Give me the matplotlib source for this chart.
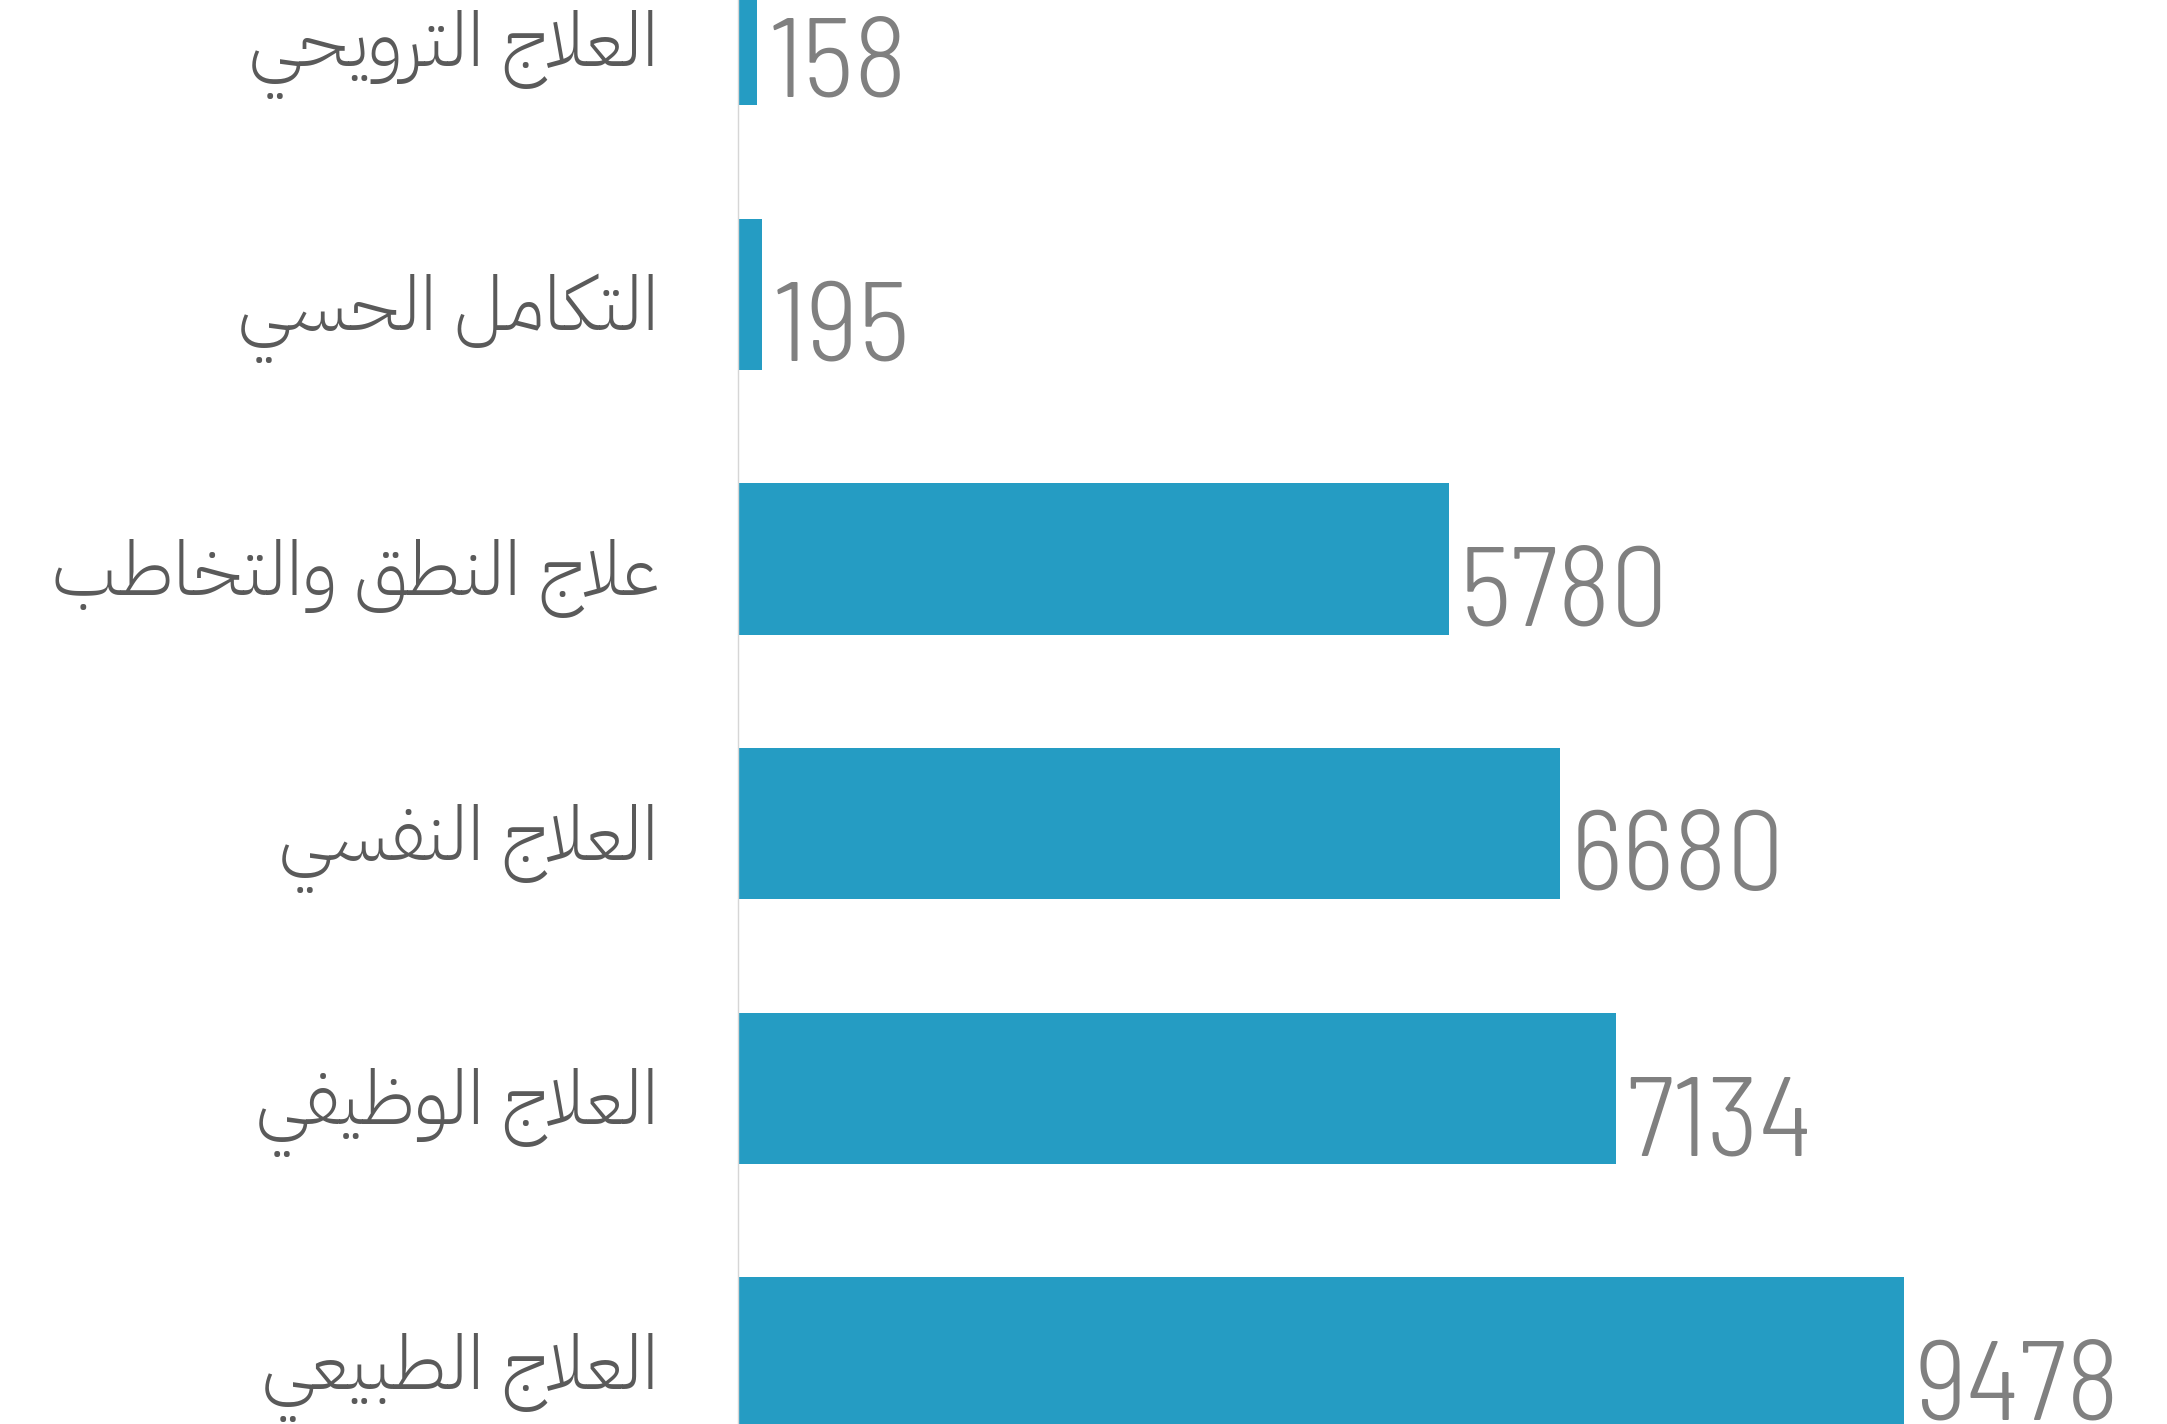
import matplotlib
matplotlib.use("Agg")
import matplotlib.pyplot as plt

# ---- data ----
categories = [
    "العلاج الترويحي",
    "التكامل الحسي",
    "علاج النطق والتخاطب",
    "العلاج النفسي",
    "العلاج الوظيفي",
    "العلاج الطبيعي",
]
values = [158, 195, 5780, 6680, 7134, 9478]

BAR_COLOR = "#259cc3"
LABEL_COLOR = "#5a5a5a"
VALUE_COLOR = "#808080"

# ---- minimal Arabic shaping (contextual forms + RTL order) ----
_FORMS = {
    "\u0627": (0xFE8D, 2), "\u0628": (0xFE8F, 4), "\u062A": (0xFE95, 4),
    "\u062C": (0xFE9D, 4), "\u062D": (0xFEA1, 4), "\u062E": (0xFEA5, 4),
    "\u0631": (0xFEAD, 2), "\u0633": (0xFEB1, 4), "\u0637": (0xFEC1, 4),
    "\u0638": (0xFEC5, 4), "\u0639": (0xFEC9, 4), "\u0641": (0xFED1, 4),
    "\u0642": (0xFED5, 4), "\u0643": (0xFED9, 4), "\u0644": (0xFEDD, 4),
    "\u0645": (0xFEE1, 4), "\u0646": (0xFEE5, 4), "\u0648": (0xFEED, 2),
    "\u064A": (0xFEF1, 4),
}


def shape_arabic(s):
    out = []
    i = 0
    n = len(s)
    prev_dual = False
    while i < n:
        c = s[i]
        if c not in _FORMS:
            out.append(c)
            prev_dual = False
            i += 1
            continue
        base, kind = _FORMS[c]
        nxt = s[i + 1] if i + 1 < n else ""
        if c == "\u0644" and nxt == "\u0627":
            out.append(chr(0xFEFC if prev_dual else 0xFEFB))
            prev_dual = False
            i += 2
            continue
        join_prev = prev_dual
        join_next = kind == 4 and nxt in _FORMS
        if kind == 2:
            form = 1 if join_prev else 0
        else:
            if join_prev and join_next:
                form = 3
            elif join_next:
                form = 2
            elif join_prev:
                form = 1
            else:
                form = 0
        out.append(chr(base + form))
        prev_dual = kind == 4
        i += 1
    return "".join(reversed(out))


# ---- figure ----
W, H, DPI = 2167, 1424, 100
fig = plt.figure(figsize=(W / DPI, H / DPI), dpi=DPI)
fig.patch.set_facecolor("white")
ax = fig.add_axes([738 / W, 0, 1 - 738 / W, 1])

ypos = list(range(len(values)))
ax.barh(ypos, values, height=0.572, color=BAR_COLOR, zorder=2)

ax.set_xlim(0, 11617)
ax.set_ylim(5.268, -0.112)

for sp in ["top", "right", "bottom"]:
    ax.spines[sp].set_visible(False)
ax.spines["left"].set_color("#d6d6d6")
ax.spines["left"].set_linewidth(1.0)
ax.set_xticks([])
ax.set_yticks([])

for y, v, cat in zip(ypos, values, categories):
    ax.annotate(
        str(v), xy=(v, y), xytext=(8, -48), textcoords="offset points",
        ha="left", va="baseline", color=VALUE_COLOR, fontsize=82, weight=300,
        family=["Barlow Semi Condensed", "DejaVu Sans"], annotation_clip=False,
    )
    ax.annotate(
        shape_arabic(cat), xy=(0, y), xytext=(-57, -26), textcoords="offset points",
        ha="right", va="baseline", color=LABEL_COLOR, fontsize=54, weight=300,
        family=["IBM Plex Sans Arabic", "DejaVu Sans"], annotation_clip=False,
    )

fig.savefig("out.png", dpi=DPI, facecolor="white")
